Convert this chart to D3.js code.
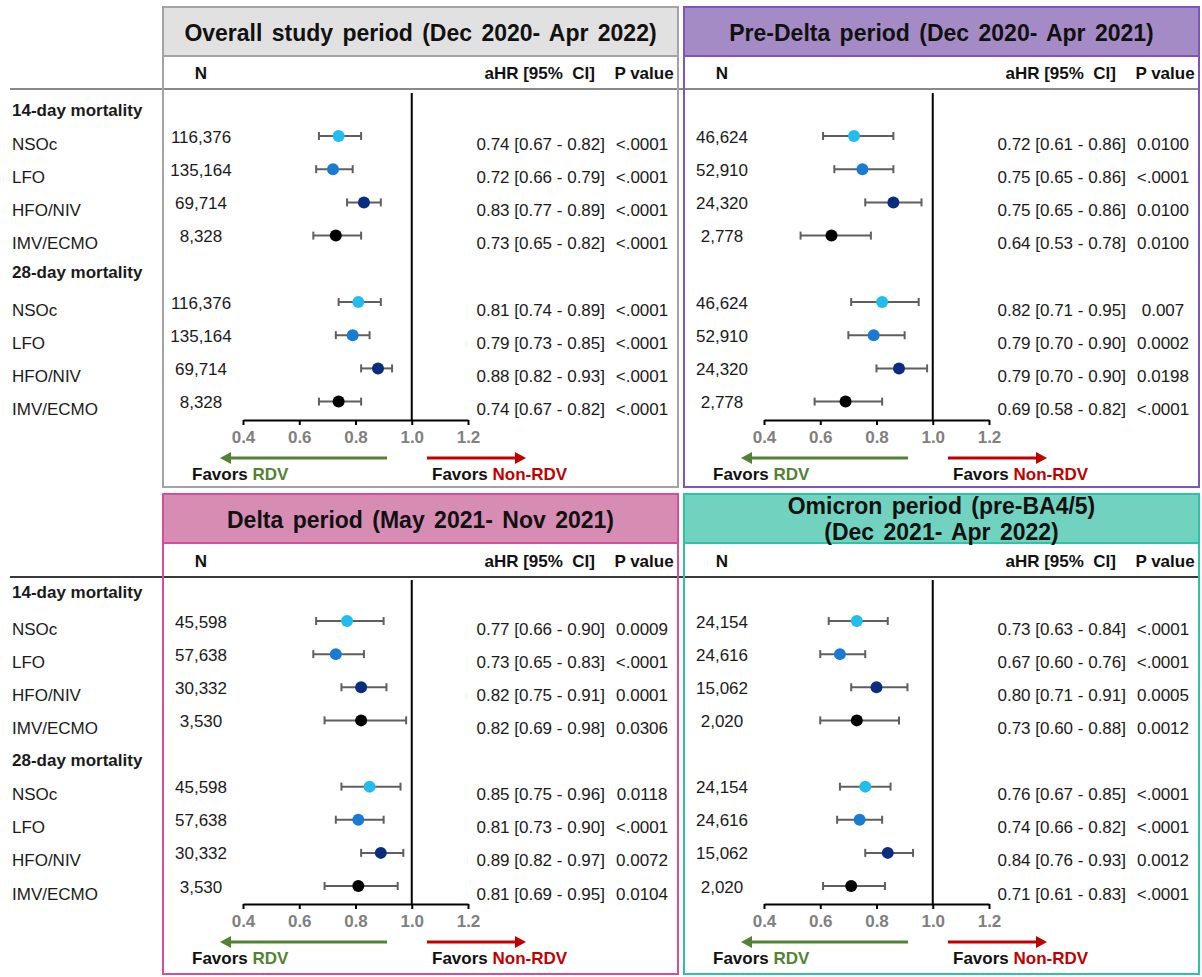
<!DOCTYPE html>
<html><head><meta charset="utf-8">
<script src="https://cdn.jsdelivr.net/npm/d3@7"></script>
<style>body{margin:0;background:#fff} svg{display:block;font-family:"Liberation Sans",Arial,sans-serif}</style>
</head><body><svg id="c" width="1202" height="977"></svg>
<script>
// ---------------- DATA ----------------
const categories = ["NSOc", "LFO", "HFO/NIV", "IMV/ECMO"];
const outcomes = ["14-day mortality", "28-day mortality"];
const tickValues = [0.4, 0.6, 0.8, 1.0, 1.2];
const tickLabels = ["0.4", "0.6", "0.8", "1.0", "1.2"];

const overallTitle = ["Overall study period (Dec 2020- Apr 2022)"];
const overallN = ["116,376", "135,164", "69,714", "8,328", "116,376", "135,164", "69,714", "8,328"];
const overallHR = [0.74, 0.72, 0.83, 0.73, 0.81, 0.79, 0.88, 0.74];
const overallLo = [0.67, 0.66, 0.77, 0.65, 0.74, 0.73, 0.82, 0.67];
const overallHi = [0.82, 0.79, 0.89, 0.82, 0.89, 0.85, 0.93, 0.82];
const overallLabel = ["0.74 [0.67 - 0.82]", "0.72 [0.66 - 0.79]", "0.83 [0.77 - 0.89]", "0.73 [0.65 - 0.82]",
                      "0.81 [0.74 - 0.89]", "0.79 [0.73 - 0.85]", "0.88 [0.82 - 0.93]", "0.74 [0.67 - 0.82]"];
const overallP = ["<.0001", "<.0001", "<.0001", "<.0001", "<.0001", "<.0001", "<.0001", "<.0001"];

const preDeltaTitle = ["Pre-Delta period (Dec 2020- Apr 2021)"];
const preDeltaN = ["46,624", "52,910", "24,320", "2,778", "46,624", "52,910", "24,320", "2,778"];
const preDeltaHR = [0.72, 0.75, 0.86, 0.64, 0.82, 0.79, 0.88, 0.69];
const preDeltaLo = [0.61, 0.65, 0.76, 0.53, 0.71, 0.70, 0.80, 0.58];
const preDeltaHi = [0.86, 0.86, 0.96, 0.78, 0.95, 0.90, 0.98, 0.82];
const preDeltaLabel = ["0.72 [0.61 - 0.86]", "0.75 [0.65 - 0.86]", "0.75 [0.65 - 0.86]", "0.64 [0.53 - 0.78]",
                       "0.82 [0.71 - 0.95]", "0.79 [0.70 - 0.90]", "0.79 [0.70 - 0.90]", "0.69 [0.58 - 0.82]"];
const preDeltaP = ["0.0100", "<.0001", "0.0100", "0.0100", "0.007", "0.0002", "0.0198", "<.0001"];

const deltaTitle = ["Delta period (May 2021- Nov 2021)"];
const deltaN = ["45,598", "57,638", "30,332", "3,530", "45,598", "57,638", "30,332", "3,530"];
const deltaHR = [0.77, 0.73, 0.82, 0.82, 0.85, 0.81, 0.89, 0.81];
const deltaLo = [0.66, 0.65, 0.75, 0.69, 0.75, 0.73, 0.82, 0.69];
const deltaHi = [0.90, 0.83, 0.91, 0.98, 0.96, 0.90, 0.97, 0.95];
const deltaLabel = ["0.77 [0.66 - 0.90]", "0.73 [0.65 - 0.83]", "0.82 [0.75 - 0.91]", "0.82 [0.69 - 0.98]",
                    "0.85 [0.75 - 0.96]", "0.81 [0.73 - 0.90]", "0.89 [0.82 - 0.97]", "0.81 [0.69 - 0.95]"];
const deltaP = ["0.0009", "<.0001", "0.0001", "0.0306", "0.0118", "<.0001", "0.0072", "0.0104"];

const omicronTitle = ["Omicron period (pre-BA4/5)", "(Dec 2021- Apr 2022)"];
const omicronN = ["24,154", "24,616", "15,062", "2,020", "24,154", "24,616", "15,062", "2,020"];
const omicronHR = [0.73, 0.67, 0.80, 0.73, 0.76, 0.74, 0.84, 0.71];
const omicronLo = [0.63, 0.60, 0.71, 0.60, 0.67, 0.66, 0.76, 0.61];
const omicronHi = [0.84, 0.76, 0.91, 0.88, 0.85, 0.82, 0.93, 0.83];
const omicronLabel = ["0.73 [0.63 - 0.84]", "0.67 [0.60 - 0.76]", "0.80 [0.71 - 0.91]", "0.73 [0.60 - 0.88]",
                      "0.76 [0.67 - 0.85]", "0.74 [0.66 - 0.82]", "0.84 [0.76 - 0.93]", "0.71 [0.61 - 0.83]"];
const omicronP = ["<.0001", "<.0001", "0.0005", "0.0012", "<.0001", "<.0001", "0.0012", "<.0001"];

// ---------------- STYLE / LAYOUT ----------------
const catColor = {"NSOc": "#22bdee", "LFO": "#1a7bd2", "HFO/NIV": "#0a2d80", "IMV/ECMO": "#000000"};
const FONT = '"Liberation Sans", Arial, sans-serif';
const svg = d3.select("#c");

const rows = d3.range(8).map(i => ({cat: categories[i % 4], slot: i < 4 ? i : i + 1}));

const panels = [
  {title: overallTitle, N: overallN, hr: overallHR, lo: overallLo, hi: overallHi, lab: overallLabel, p: overallP,
   left: 163, top: 7, fill: "#e1e1e1", stroke: "#a3a3a3", row: "top"},
  {title: preDeltaTitle, N: preDeltaN, hr: preDeltaHR, lo: preDeltaLo, hi: preDeltaHi, lab: preDeltaLabel, p: preDeltaP,
   left: 684, top: 7, fill: "#a58bc6", stroke: "#7d55c0", row: "top"},
  {title: deltaTitle, N: deltaN, hr: deltaHR, lo: deltaLo, hi: deltaHi, lab: deltaLabel, p: deltaP,
   left: 163, top: 494, fill: "#d78db3", stroke: "#d2509a", row: "bottom"},
  {title: omicronTitle, N: omicronN, hr: omicronHR, lo: omicronLo, hi: omicronHi, lab: omicronLabel, p: omicronP,
   left: 684, top: 494, fill: "#71d3bf", stroke: "#2cc4a4", row: "bottom"}
];
const PW = 515, PH = 480, HH = 49;

const rowGeom = {
  top:    {y: d3.scaleLinear().domain([0, 8]).range([136, 401.6]), sub: 73, line: 89, axis: 420, vTop: 93, lineColor: "#8a8a8a", h14: 8, h28: 4},
  bottom: {y: d3.scaleLinear().domain([0, 8]).range([621, 886]), sub: 561, line: 577, axis: 904, vTop: 580, lineColor: "#3a3a3a", h14: 5, h28: 7}
};

// subheader lines across full width
Object.values(rowGeom).forEach(g => {
  svg.append("line").attr("x1", 10).attr("x2", 1199).attr("y1", g.line).attr("y2", g.line)
    .attr("stroke", g.lineColor).attr("stroke-width", 2);
  // left labels
  const lab = svg.append("g").attr("font-family", FONT).attr("font-size", 17).attr("fill", "#1a1a1a");
  lab.append("text").attr("x", 12).attr("y", g.y(-1) + g.h14).attr("dominant-baseline", "central")
    .attr("font-weight", "bold").text(outcomes[0]);
  lab.append("text").attr("x", 12).attr("y", g.y(4) + g.h28).attr("dominant-baseline", "central")
    .attr("font-weight", "bold").text(outcomes[1]);
  rows.forEach(r => {
    lab.append("text").attr("x", 12).attr("y", g.y(r.slot) + 8).attr("dominant-baseline", "central").text(r.cat);
  });
});

panels.forEach(P => {
  const g = rowGeom[P.row];
  const G = svg.append("g").attr("transform", `translate(${P.left},0)`).attr("font-family", FONT);
  // header
  G.append("rect").attr("x", 0).attr("y", P.top).attr("width", PW).attr("height", HH)
    .attr("fill", P.fill).attr("stroke", P.stroke).attr("stroke-width", 2);
  const tl = P.title.length;
  P.title.forEach((t, i) => {
    G.append("text").attr("x", PW / 2)
      .attr("y", tl === 1 ? P.top + HH / 2 + 1 : P.top + 12 + i * 26)
      .attr("text-anchor", "middle").attr("dominant-baseline", "central")
      .attr("font-weight", "bold").attr("font-size", 23).attr("word-spacing", 3).attr("fill", "#111")
      .text(t);
  });
  // subheader
  G.append("text").attr("x", 38).attr("y", g.sub).attr("text-anchor", "middle").attr("dominant-baseline", "central")
    .attr("font-weight", "bold").attr("font-size", 17).attr("fill", "#111").text("N");
  G.append("text").attr("x", 432).attr("y", g.sub).attr("text-anchor", "end").attr("dominant-baseline", "central")
    .attr("font-weight", "bold").attr("font-size", 17).attr("fill", "#111").attr("xml:space", "preserve").text("aHR [95%  CI]");
  G.append("text").attr("x", 481).attr("y", g.sub).attr("text-anchor", "middle").attr("dominant-baseline", "central")
    .attr("font-weight", "bold").attr("font-size", 17).attr("fill", "#111").text("P value");

  const x = d3.scaleLinear().domain([0.4, 1.2]).range([80, 305]);

  // reference line at 1.0
  G.append("line").attr("x1", x(1)).attr("x2", x(1)).attr("y1", g.vTop).attr("y2", g.axis)
    .attr("stroke", "#000").attr("stroke-width", 2);

  // axis
  const ax = G.append("g").attr("transform", `translate(0,${g.axis})`)
    .call(d3.axisBottom(x).tickValues(tickValues).tickFormat((d, i) => tickLabels[i]).tickSize(5).tickSizeOuter(0));
  ax.select(".domain").attr("stroke", "#000").attr("stroke-width", 2);
  ax.selectAll(".tick line").attr("stroke", "#000").attr("stroke-width", 2);
  ax.selectAll(".tick text").attr("font-family", FONT).attr("font-size", 17).attr("font-weight", "bold")
    .attr("fill", "#808080").attr("y", 11);

  // rows
  rows.forEach((r, i) => {
    const yy = g.y(r.slot);
    G.append("text").attr("x", 38).attr("y", yy + 1).attr("text-anchor", "middle").attr("dominant-baseline", "central")
      .attr("font-size", 17).attr("fill", "#1a1a1a").text(P.N[i]);
    G.append("line").attr("x1", x(P.lo[i])).attr("x2", x(P.hi[i])).attr("y1", yy).attr("y2", yy)
      .attr("stroke", "#5f5f5f").attr("stroke-width", 2);
    [P.lo[i], P.hi[i]].forEach(v => {
      G.append("line").attr("x1", x(v)).attr("x2", x(v)).attr("y1", yy - 4).attr("y2", yy + 4)
        .attr("stroke", "#5f5f5f").attr("stroke-width", 2);
    });
    G.append("circle").attr("cx", x(P.hr[i])).attr("cy", yy).attr("r", 6).attr("fill", catColor[r.cat]);
    G.append("text").attr("x", 442).attr("y", yy + 8).attr("text-anchor", "end").attr("dominant-baseline", "central")
      .attr("font-size", 17).attr("fill", "#1a1a1a").text(P.lab[i]);
    G.append("text").attr("x", 479).attr("y", yy + 8).attr("text-anchor", "middle").attr("dominant-baseline", "central")
      .attr("font-size", 17).attr("fill", "#1a1a1a").text(P.p[i]);
  });

  // arrows
  const ay = g.axis + 38;
  G.append("line").attr("x1", 224).attr("x2", 66).attr("y1", ay).attr("y2", ay).attr("stroke", "#548235").attr("stroke-width", 3);
  G.append("path").attr("d", `M57,${ay} L68,${ay - 6} L68,${ay + 6} Z`).attr("fill", "#548235");
  G.append("line").attr("x1", 264).attr("x2", 354).attr("y1", ay).attr("y2", ay).attr("stroke", "#c00000").attr("stroke-width", 3);
  G.append("path").attr("d", `M363,${ay} L352,${ay - 6} L352,${ay + 6} Z`).attr("fill", "#c00000");

  const fy = g.axis + 54;
  const f1 = G.append("text").attr("x", 29).attr("y", fy).attr("dominant-baseline", "central")
    .attr("font-size", 17).attr("font-weight", "bold").attr("fill", "#111");
  f1.append("tspan").text("Favors ");
  f1.append("tspan").attr("fill", "#548235").text("RDV");
  const f2 = G.append("text").attr("x", 269).attr("y", fy).attr("dominant-baseline", "central")
    .attr("font-size", 17).attr("font-weight", "bold").attr("fill", "#111");
  f2.append("tspan").text("Favors ");
  f2.append("tspan").attr("fill", "#c00000").text("Non-RDV");

  // outer border
  G.append("rect").attr("x", 0).attr("y", P.top).attr("width", PW).attr("height", PH)
    .attr("fill", "none").attr("stroke", P.stroke).attr("stroke-width", 2);
});
</script></body></html>
